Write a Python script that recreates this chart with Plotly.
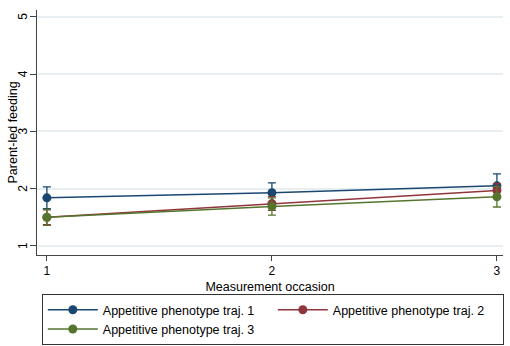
import plotly.graph_objects as go

occasions = [1, 2, 3]
traj1 = [1.84, 1.93, 2.05]
traj1_err = [0.19, 0.17, 0.21]
traj2 = [1.50, 1.74, 1.97]
traj2_err = [0.13, 0.12, 0.12]
traj3 = [1.50, 1.69, 1.86]
traj3_err = [0.14, 0.15, 0.18]
y_ticks = [1, 2, 3, 4, 5]
names = ["Appetitive phenotype traj. 1", "Appetitive phenotype traj. 2", "Appetitive phenotype traj. 3"]
colors = ["#1a476f", "#90353b", "#55752f"]

fig = go.Figure()
for name, ys, errs, col in zip(names, [traj1, traj2, traj3], [traj1_err, traj2_err, traj3_err], colors):
    fig.add_trace(go.Scatter(
        x=occasions, y=ys, name=name, mode="lines+markers",
        line=dict(color=col, width=1.5),
        marker=dict(color=col, size=9, symbol="circle"),
        error_y=dict(type="data", array=errs, color=col, thickness=1.3, width=4),
    ))

font = "Liberation Sans, Arial, sans-serif"
fig.add_annotation(
    text="Parent-led feeding", xref="paper", yref="paper", x=0, y=0.5,
    xanchor="center", yanchor="middle", xshift=-25, textangle=-90, showarrow=False,
    font=dict(family=font, size=12.5, color="#000"),
)
# rotated y tick labels (Stata style), placed on the y axis scale
for t in y_ticks:
    fig.add_annotation(
        text=str(t), xref="paper", yref="y", x=0, y=t,
        xanchor="center", yanchor="middle", xshift=-14, textangle=-90, showarrow=False,
        font=dict(family=font, size=12, color="#000"),
    )
fig.update_layout(
    width=510, height=346,
    margin=dict(l=37, r=7, t=10, b=91),
    paper_bgcolor="white", plot_bgcolor="white",
    font=dict(family=font, size=12, color="#000"),
    showlegend=True,
    legend=dict(
        orientation="h", xref="container", yref="container",
        x=0.082, y=0.15, xanchor="left", yanchor="top",
        bordercolor="#333", borderwidth=1,
        itemwidth=50,
        entrywidth=165, entrywidthmode="pixels",
        font=dict(family=font, size=12.5, color="#000"),
        tracegroupgap=0,
    ),
    xaxis=dict(
        range=[0.956, 3.027], tickvals=occasions, ticktext=["1", "2", "3"],
        showgrid=False, zeroline=False, showline=True, linecolor="#444", linewidth=1,
        ticks="outside", ticklen=5, tickcolor="#444", automargin=False,
        tickfont=dict(size=12),
        title=dict(text="Measurement occasion", font=dict(size=12.5), standoff=4),
    ),
    yaxis=dict(
        range=[0.842, 5.12], tickvals=y_ticks, showticklabels=False,
        showgrid=True, gridcolor="#e8eff2", gridwidth=1.5, zeroline=False,
        showline=True, linecolor="#444", linewidth=1, automargin=False,
        ticks="outside", ticklen=6, tickcolor="#444",
    ),
)
fig.write_html("out.html", config={"displayModeBar": False},
               post_script="document.body.style.margin='0';document.body.style.overflow='hidden';")
